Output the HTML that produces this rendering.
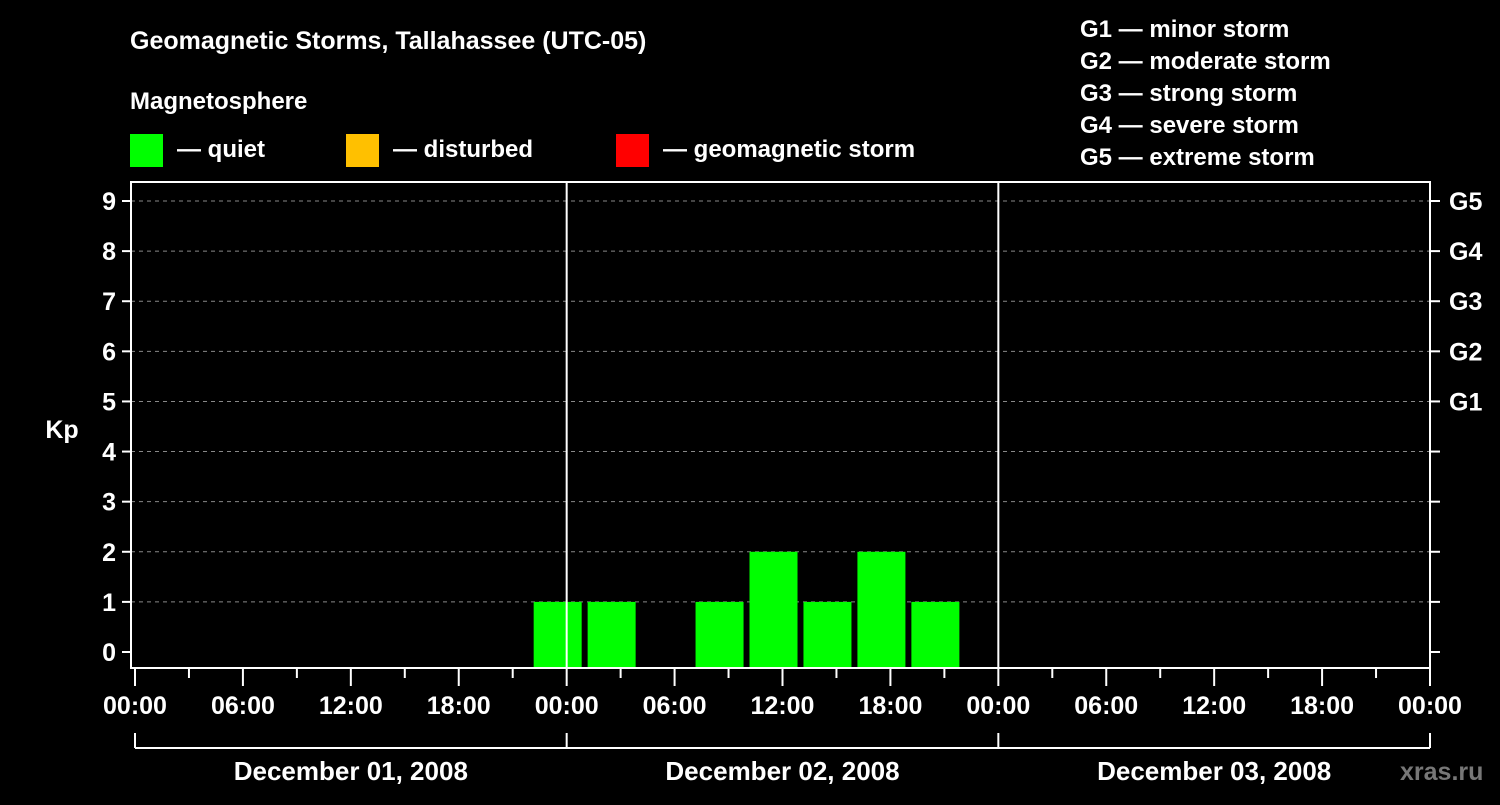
<!DOCTYPE html>
<html><head><meta charset="utf-8"><style>
body{margin:0;background:#000;}
svg text{font-family:"Liberation Sans",sans-serif;font-weight:bold;fill:#fff;}
</style></head><body>
<svg id="c" width="1500" height="800" xmlns="http://www.w3.org/2000/svg">
<rect width="1500" height="800" fill="#000"/>
<text x="130" y="49" font-size="25">Geomagnetic Storms, Tallahassee (UTC-05)</text>
<text x="130" y="109" font-size="24">Magnetosphere</text>
<g><rect x="130" y="134" width="33" height="33" fill="#00ff00"/><text x="177" y="157" font-size="24">— quiet</text></g>
<g><rect x="346" y="134" width="33" height="33" fill="#ffc000"/><text x="393" y="157" font-size="24">— disturbed</text></g>
<g><rect x="616" y="134" width="33" height="33" fill="#ff0000"/><text x="663" y="157" font-size="24">— geomagnetic storm</text></g>
<g font-size="24">
<text x="1080" y="37">G1 — minor storm</text>
<text x="1080" y="69">G2 — moderate storm</text>
<text x="1080" y="101">G3 — strong storm</text>
<text x="1080" y="133">G4 — severe storm</text>
<text x="1080" y="165">G5 — extreme storm</text>
</g>
<text x="62" y="438" font-size="25" text-anchor="middle">Kp</text>
<text x="1400" y="780" font-size="25" fill="#777" style="fill:#777">xras.ru</text>
<g id="g"></g>
</svg>
<script>
const kpValues=[null,null,null,null,null,null,null,1,1,0,1,2,1,2,1,null,null,null,null,null,null,null,null,null];
const yTicks=[0,1,2,3,4,5,6,7,8,9];
const gLabels=["G1","G2","G3","G4","G5"];
const hourLabels=["00:00","06:00","12:00","18:00"];
const dayLabels=["December 01, 2008","December 02, 2008","December 03, 2008"];
const X0=135,PXH=(1430-135)/72,L=131,R=1430,T=182,B=668;
const xs=h=>X0+h*PXH;
const ys=v=>652-v*(652-201)/9;
const g=document.getElementById('g');
const NS='http://www.w3.org/2000/svg';
function mk(t,a){const e=document.createElementNS(NS,t);for(const k in a)e.setAttribute(k,a[k]);g.appendChild(e);return e;}
yTicks.forEach(v=>{
 if(v>0){const l=mk('line',{x1:L,x2:R,y1:ys(v),y2:ys(v),stroke:'#888','stroke-dasharray':'4,4','stroke-width':1});
 
 }
 const t=mk('line',{x1:122,x2:L,y1:ys(v),y2:ys(v),stroke:'#fff','stroke-width':2});
 
 
 const t2=mk('line',{x1:R,x2:1440,y1:ys(v),y2:ys(v),stroke:'#fff','stroke-width':2});
 
 
 const tx=mk('text',{x:116,y:ys(v)+9,'font-size':25,'text-anchor':'end'});tx.textContent=v;
 
 
});
gLabels.forEach((s,i)=>{const tx=mk('text',{x:1449,y:ys(5+i)+9,'font-size':25});tx.textContent=s;
 
 });
kpValues.forEach((v,i)=>{if(v===null||v<=0)return;const c=xs(3*i+2.5);
 const r=mk('rect',{x:c-24,y:ys(v),width:48,height:B-ys(v),fill:v>=5?'#ff0000':(v>=4?'#ffc000':'#00ff00')});
 
 });
const f=mk('rect',{x:L,y:T,width:R-L,height:B-T,fill:'none',stroke:'#fff','stroke-width':2});


for(let d=1;d<3;d++){const l=mk('line',{x1:xs(24*d),x2:xs(24*d),y1:T,y2:B,stroke:'#fff','stroke-width':2});
 
 }
for(let h=0;h<=72;h+=3){const big=h%6===0;
 const l=mk('line',{x1:xs(h),x2:xs(h),y1:B,y2:B+(big?18:10),stroke:'#fff','stroke-width':2});
 
 
 if(big){const tx=mk('text',{x:xs(h),y:714,'font-size':25,'text-anchor':'middle'});tx.textContent=hourLabels[(h/6)%4];
 
 }}
const bl=mk('line',{x1:xs(0),x2:xs(72),y1:748,y2:748,stroke:'#fff','stroke-width':2});


for(let d=0;d<=3;d++){const l=mk('line',{x1:xs(24*d),x2:xs(24*d),y1:733,y2:748,stroke:'#fff','stroke-width':2});
 
 }
dayLabels.forEach((s,i)=>{const tx=mk('text',{x:xs(24*i+12),y:780,'font-size':26,'text-anchor':'middle'});tx.textContent=s;
 
 });
</script>
</body></html>
